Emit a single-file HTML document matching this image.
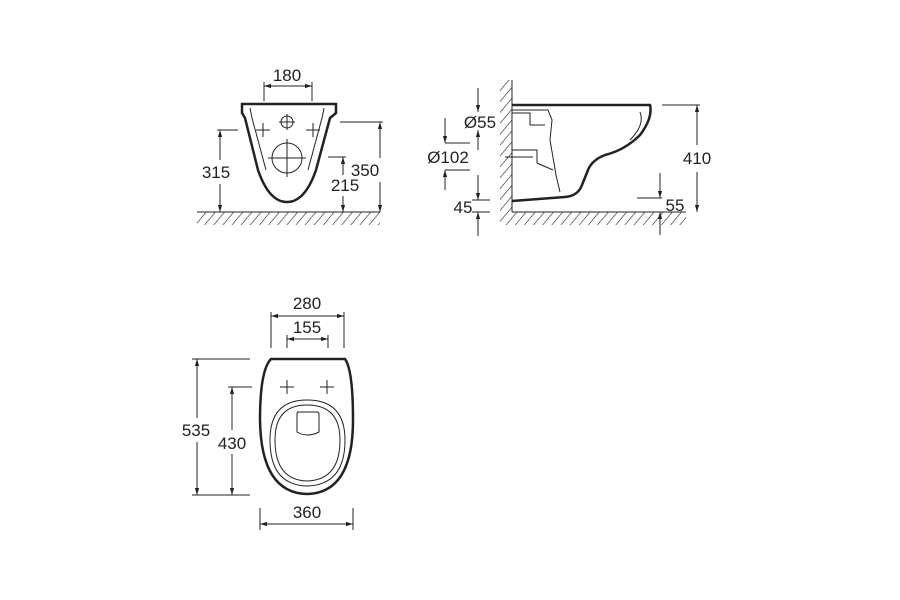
<!DOCTYPE html>
<html><head><meta charset="utf-8"><style>
html,body{margin:0;padding:0;background:#fff}
svg{display:block}
text{font-family:"Liberation Sans",Arial,sans-serif;font-size:17px;fill:#222;text-anchor:middle}
</style></head><body>
<svg width="900" height="600" viewBox="0 0 900 600" xmlns="http://www.w3.org/2000/svg">
<defs>
<pattern id="h" width="7" height="7" patternUnits="userSpaceOnUse" patternTransform="rotate(40)">
<line x1="0" y1="0" x2="0" y2="7" stroke="#222" stroke-width="1.2"/>
</pattern>
<marker id="a" viewBox="0 0 10 10" refX="10" refY="5" markerWidth="7" markerHeight="7" orient="auto-start-reverse">
<path d="M0,2 L10,5 L0,8 z" fill="#222"/>
</marker>
</defs>
<g stroke="#222" fill="none" stroke-width="1">
<!-- VIEW 1 -->
<rect x="197" y="212" width="183" height="13" fill="url(#h)" stroke="none"/>
<line x1="197" y1="212" x2="380" y2="212"/>
<line x1="264" y1="82" x2="264" y2="101"/><line x1="312" y1="82" x2="312" y2="101"/>
<line x1="264" y1="86" x2="312" y2="86" marker-start="url(#a)" marker-end="url(#a)"/>
<path d="M242,104 L336,104 L336,113 L330,118 L316,170 Q305,202 287,202 Q269,202 258,170 L245,118 L242,113 Z" stroke-width="2.5"/>
<path d="M250,108 L252,118 L266,170" stroke-width="1"/>
<path d="M324,108 L322,118 L308,170" stroke-width="1"/>
<circle cx="287" cy="122" r="6"/><line x1="279" y1="122" x2="295" y2="122"/><line x1="287" y1="114" x2="287" y2="130"/>
<circle cx="287" cy="158" r="15"/><line x1="268" y1="158" x2="306" y2="158"/><line x1="287" y1="139" x2="287" y2="177"/>
<line x1="256" y1="130" x2="270" y2="130"/><line x1="263" y1="123" x2="263" y2="137"/>
<line x1="306" y1="130" x2="320" y2="130"/><line x1="313" y1="123" x2="313" y2="137"/>
<line x1="217" y1="130" x2="238" y2="130"/>
<line x1="220" y1="130" x2="220" y2="160" marker-start="url(#a)"/><line x1="220" y1="184" x2="220" y2="212" marker-end="url(#a)"/>
<line x1="340" y1="122" x2="383" y2="122"/>
<line x1="380" y1="122" x2="380" y2="158" marker-start="url(#a)"/><line x1="380" y1="182" x2="380" y2="212" marker-end="url(#a)"/>
<line x1="328" y1="157" x2="346" y2="157"/>
<line x1="343" y1="157" x2="343" y2="175" marker-start="url(#a)"/><line x1="343" y1="196" x2="343" y2="212" marker-end="url(#a)"/>
<!-- VIEW 2 -->
<rect x="500" y="80" width="12" height="132" fill="url(#h)" stroke="none"/>
<rect x="500" y="212" width="186" height="13" fill="url(#h)" stroke="none"/>
<line x1="512" y1="80" x2="512" y2="212"/><line x1="512" y1="212" x2="686" y2="212"/>
<path d="M512,105 L650,105 Q653,118 640,135 Q625,150 605,155 Q592,160 588,170 L582,185 Q578,196 565,197 L512,201" stroke-width="2.5"/>
<path d="M512,110 L548,110 L552,120 L550,140 L556,175 L560,192" />
<path d="M640,112 Q645,125 630,140"/>
<path d="M512,113 L530,113 L530,125 L545,125"/>
<path d="M512,150 L537,150 L537,163 L553,170"/>
<path d="M505,157 L533,157"/>
<line x1="662" y1="105" x2="700" y2="105"/>
<line x1="697" y1="105" x2="697" y2="145" marker-start="url(#a)"/><line x1="697" y1="172" x2="697" y2="212" marker-end="url(#a)"/>
<line x1="637" y1="198" x2="662" y2="198"/>
<line x1="660" y1="173" x2="660" y2="198" marker-end="url(#a)"/>
<line x1="660" y1="235" x2="660" y2="212" marker-end="url(#a)"/>
<line x1="478" y1="88" x2="478" y2="112" marker-end="url(#a)"/>
<line x1="478" y1="150" x2="478" y2="130" marker-end="url(#a)"/>
<line x1="445" y1="118" x2="445" y2="143" marker-end="url(#a)"/>
<line x1="445" y1="190" x2="445" y2="170" marker-end="url(#a)"/>
<line x1="445" y1="143" x2="470" y2="143"/><line x1="445" y1="170" x2="470" y2="170"/>
<line x1="478" y1="175" x2="478" y2="200" marker-end="url(#a)"/>
<line x1="478" y1="236" x2="478" y2="212" marker-end="url(#a)"/>
<line x1="472" y1="200" x2="490" y2="200"/><line x1="472" y1="212" x2="490" y2="212"/>
<!-- VIEW 3 -->
<line x1="271" y1="312" x2="271" y2="348"/><line x1="344" y1="312" x2="344" y2="348"/>
<line x1="271" y1="316" x2="344" y2="316" marker-start="url(#a)" marker-end="url(#a)"/>
<line x1="287" y1="335" x2="287" y2="348"/><line x1="328" y1="335" x2="328" y2="348"/>
<line x1="287" y1="339" x2="328" y2="339" marker-start="url(#a)" marker-end="url(#a)"/>
<path d="M271,359 L345,359 Q353,370 353,420 Q353,493 307,494 Q261,493 260,420 Q260,370 271,359 Z" stroke-width="2.5"/>
<path d="M307,400 Q345,400 345,440 Q345,485 307,486 Q270,485 270,440 Q270,400 307,400 Z"/>
<path d="M307,405 Q340,405 340,440 Q340,480 307,481 Q275,480 275,440 Q275,405 307,405 Z"/>
<path d="M297,412 L317,412 Q319,412 319,414 L319,432 Q307,438 297,432 L297,414 Q297,412 299,412 Z"/>
<line x1="280" y1="387" x2="294" y2="387"/><line x1="287" y1="380" x2="287" y2="394"/>
<line x1="320" y1="387" x2="334" y2="387"/><line x1="327" y1="380" x2="327" y2="394"/>
<line x1="192" y1="359" x2="250" y2="359"/><line x1="192" y1="495" x2="250" y2="495"/>
<line x1="197" y1="359" x2="197" y2="418" marker-start="url(#a)"/><line x1="197" y1="442" x2="197" y2="495" marker-end="url(#a)"/>
<line x1="228" y1="387" x2="252" y2="387"/>
<line x1="232" y1="387" x2="232" y2="430" marker-start="url(#a)"/><line x1="232" y1="454" x2="232" y2="495" marker-end="url(#a)"/>
<line x1="260" y1="508" x2="260" y2="530"/><line x1="353" y1="508" x2="353" y2="530"/>
<line x1="260" y1="524" x2="353" y2="524" marker-start="url(#a)" marker-end="url(#a)"/>
</g>
<text x="287" y="81">180</text>
<text x="216" y="178">315</text>
<text x="365" y="176">350</text>
<text x="345" y="191">215</text>
<text x="480" y="128">Ø55</text>
<text x="448" y="163">Ø102</text>
<text x="463" y="213">45</text>
<text x="697" y="164">410</text>
<text x="675" y="211">55</text>
<text x="307" y="309">280</text>
<text x="307" y="333">155</text>
<text x="196" y="436">535</text>
<text x="232" y="449">430</text>
<text x="307" y="518">360</text>
</svg>
</body></html>
